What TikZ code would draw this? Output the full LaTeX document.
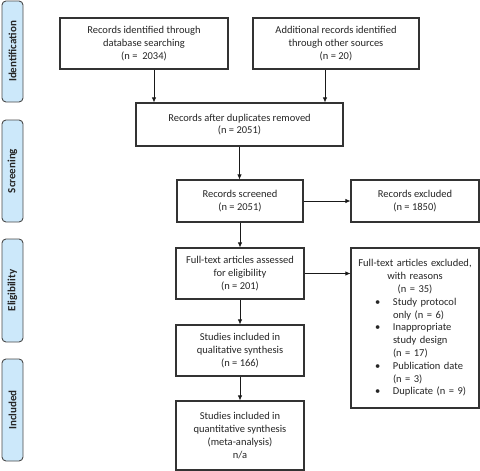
\documentclass[tikz,border=0pt]{standalone}
\usepackage{fontspec}
\setmainfont{Carlito}
\usetikzlibrary{arrows.meta}
\definecolor{tabblue}{HTML}{CCE8FA}
\definecolor{edge}{HTML}{333333}
\definecolor{tabedge}{HTML}{4A4A4A}
\tikzset{
  box/.style={draw=edge, line width=1.1pt, fill=white, align=center, inner sep=2pt,
    font=\fontsize{10.5}{12.8}\selectfont, text=black!85},
  tab/.style={draw=tabedge, line width=0.9pt, fill=tabblue, rounded corners=4pt, rotate=90,
    minimum height=21pt, inner sep=0pt, font=\fontsize{11}{12}\selectfont\bfseries, text=black!85},
  arr/.style={draw=black!90, line width=0.8pt, -{Latex[length=5pt,width=4.5pt]}}
}
\begin{document}
\begin{tikzpicture}[x=1pt,y=-1pt]
\useasboundingbox (0,0) rectangle (480,471);
% tabs
\node[tab, minimum width=101pt] (t1) at (12.5,51.5) {Identification};
\node[tab, minimum width=102pt] (t2) at (12.5,171) {Screening};
\node[tab, minimum width=103pt] (t3) at (12.5,290.5) {Eligibility};
\node[tab, minimum width=102pt] (t4) at (12.5,410) {Included};
% boxes
\node[box, minimum width=168pt, minimum height=51pt] (A) at (144,43.5)
  {Records identified through\\database searching\\(n =\ \ 2034)};
\node[box, minimum width=166pt, minimum height=51pt] (B) at (336,43.5)
  {Additional records identified\\through other sources\\(n = 20)};
\node[box, minimum width=207pt, minimum height=43pt] (C) at (239.5,124.5)
  {Records after duplicates removed\\(n = 2051)};
\node[box, minimum width=126pt, minimum height=42pt] (D) at (240,201)
  {Records screened\\(n = 2051)};
\node[box, minimum width=128pt, minimum height=42pt] (E) at (415,201)
  {Records excluded\\(n = 1850)};
\node[box, minimum width=128pt, minimum height=51pt] (F) at (240,273.5)
  {Full-text articles assessed\\for eligibility\\(n = 201)};
\node[box, minimum width=128pt, minimum height=160pt, inner sep=0pt, text width=128pt, align=left] (G) at (415,328)
  {{\centering Full-text articles excluded,\\with reasons\\(n = 35)\par}
   \hspace*{24pt}\makebox[18pt][l]{\textbullet}Study protocol\\
   \hspace*{42pt}only (n = 6)\\
   \hspace*{24pt}\makebox[18pt][l]{\textbullet}Inappropriate\\
   \hspace*{42pt}study design\\
   \hspace*{42pt}(n = 17)\\
   \hspace*{24pt}\makebox[18pt][l]{\textbullet}Publication date\\
   \hspace*{42pt}(n = 3)\\
   \hspace*{24pt}\makebox[18pt][l]{\textbullet}Duplicate (n = 9)};
\node[box, minimum width=128pt, minimum height=51pt] (H) at (240,350.5)
  {Studies included in\\qualitative synthesis\\(n = 166)};
\node[box, minimum width=128pt, minimum height=69pt] (I) at (240,435.5)
  {Studies included in\\quantitative synthesis\\(meta-analysis)\\n/a};
% connectors
\draw[arr] ([xshift=10pt]A.south) -- ([xshift=10pt]A.south |- C.north);
\draw[arr] ([xshift=-11pt]B.south) -- ([xshift=-11pt]B.south |- C.north);
\draw[arr] (C.south) -- (C.south |- D.north);
\draw[arr] (D.east) -- (D.east -| E.west);
\draw[arr] (D.south) -- (F.north);
\draw[arr] (F.east) -- (F.east -| G.west);
\draw[arr] (F.south) -- (H.north);
\draw[arr] (H.south) -- (I.north);
\end{tikzpicture}
\end{document}
